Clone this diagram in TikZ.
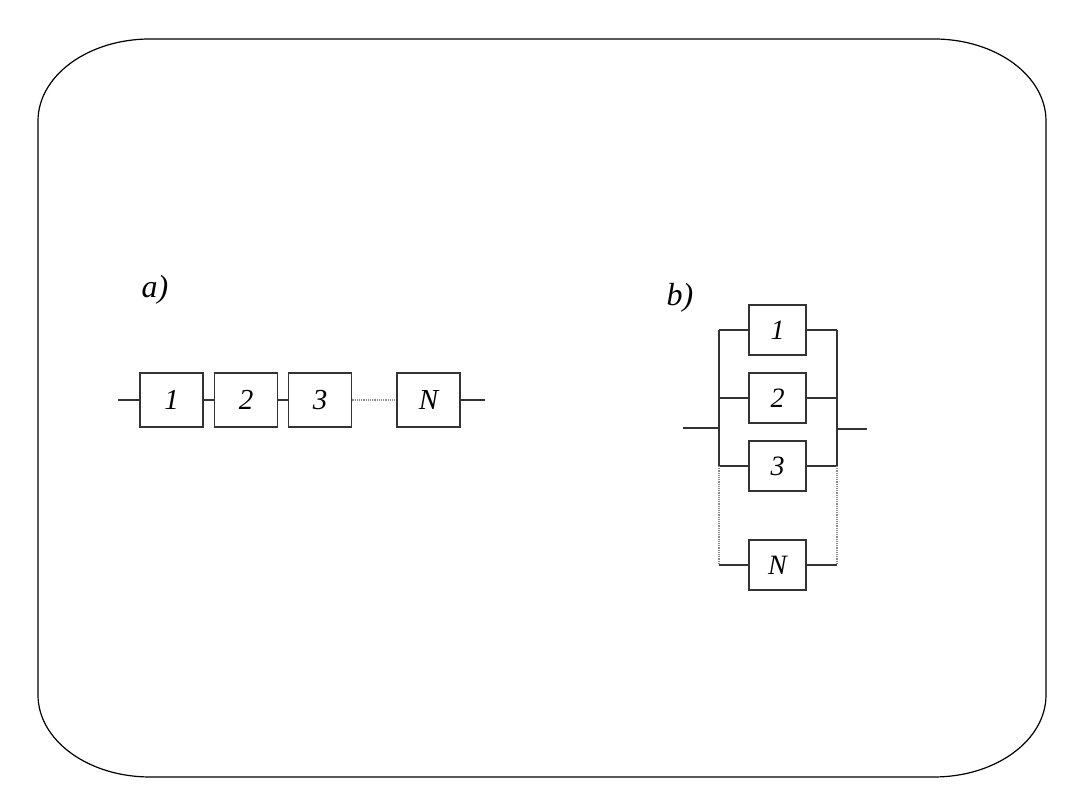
\documentclass[tikz,border=0pt]{standalone}
\usepackage{fontspec}
\setmainfont{Liberation Serif}
\begin{document}
\begin{tikzpicture}[x=1pt,y=1pt,
  wire/.style={line width=1.6pt,draw=black!80},
  dotwire/.style={line width=1.2pt,draw=black!45,densely dotted},
  boxa/.style={draw=black!80,line width=1.7pt,minimum width=63pt,minimum height=54pt,inner sep=0pt,
    font=\fontsize{29}{31}\selectfont\itshape},
  boxb/.style={draw=black!80,line width=1.7pt,minimum width=57pt,minimum height=50pt,inner sep=0pt,
    font=\fontsize{28}{30}\selectfont\itshape},
  lab/.style={font=\fontsize{32}{34}\selectfont\itshape,inner sep=0pt},
  frame/.style={line width=1.2pt,draw=black}]
\useasboundingbox (0,0) rectangle (1080,810);
% frame
\draw[frame] (150,771) -- (934,771)
  arc[start angle=90,end angle=0,x radius=112,y radius=82] -- (1046,115)
  arc[start angle=0,end angle=-90,x radius=112,y radius=82] -- (150,33)
  arc[start angle=270,end angle=180,x radius=112,y radius=82] -- (38,689)
  arc[start angle=180,end angle=90,x radius=112,y radius=82] -- cycle;
% part a
\node[lab] (la) at (155,520) {a)};
\node[boxa] (a1) at (171.5,410) {1};
\node[boxa] (a2) at (246,410) {2};
\node[boxa] (a3) at (320,410) {3};
\node[boxa] (aN) at (428.5,410) {N};
\coordinate (ain) at (118,410);
\coordinate (aout) at (485,410);
\draw[wire] (ain) -- (a1.west);
\draw[wire] (a1.east) -- (a2.west);
\draw[wire] (a2.east) -- (a3.west);
\draw[dotwire] (a3.east) -- (aN.west);
\draw[wire] (aN.east) -- (aout);
% part b
\node[lab] (lb) at (680,512) {b)};
\node[boxb] (b1) at (777.5,480) {1};
\node[boxb] (b2) at (777.5,412) {2};
\node[boxb] (b3) at (777.5,344) {3};
\node[boxb] (bN) at (777.5,245) {N};
\coordinate (L1) at (719,480);
\coordinate (L2) at (719,412);
\coordinate (L3) at (719,344);
\coordinate (LN) at (719,245);
\coordinate (R1) at (837,480);
\coordinate (R2) at (837,412);
\coordinate (R3) at (837,344);
\coordinate (RN) at (837,245);
\coordinate (Lin) at (719,382);
\coordinate (Rout) at (837,381);
\coordinate (bin) at (683,382);
\coordinate (bout) at (867,381);
\draw[wire] (L1) -- (b1.west) (L2) -- (b2.west) (L3) -- (b3.west) (LN) -- (bN.west);
\draw[wire] (b1.east) -- (R1) (b2.east) -- (R2) (b3.east) -- (R3) (bN.east) -- (RN);
\draw[wire] (L1) -- (L3);
\draw[wire] (R1) -- (R3);
\draw[dotwire] (L3) -- (LN);
\draw[dotwire] (R3) -- (RN);
\draw[wire] (bin) -- (Lin);
\draw[wire] (Rout) -- (bout);
\end{tikzpicture}
\end{document}
